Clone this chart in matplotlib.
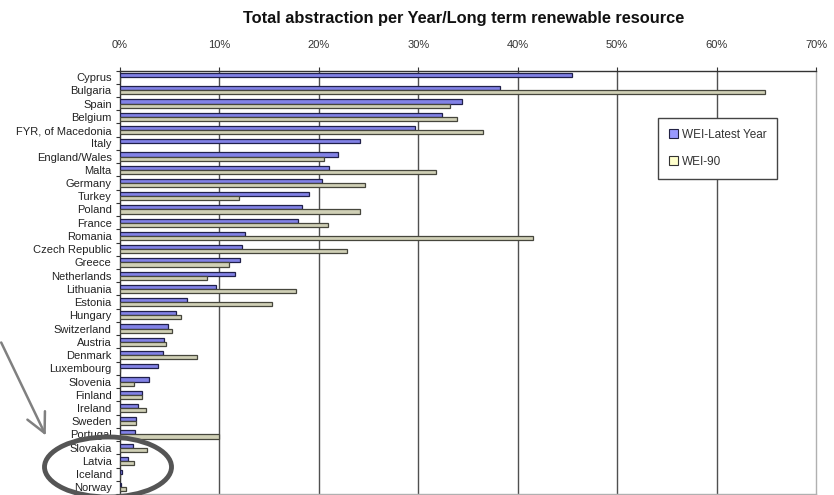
import matplotlib
matplotlib.use("Agg")
import matplotlib.pyplot as plt
import numpy as np
from matplotlib.patches import Patch, Ellipse, FancyArrowPatch

plt.rcParams['font.family'] = ['Liberation Sans', 'DejaVu Sans']

# Water exploitation index per country, in % of long term renewable resource
countries = ["Cyprus", "Bulgaria", "Spain", "Belgium", "FYR, of Macedonia", "Italy",
             "England/Wales", "Malta", "Germany", "Turkey", "Poland", "France",
             "Romania", "Czech Republic", "Greece", "Netherlands", "Lithuania",
             "Estonia", "Hungary", "Switzerland", "Austria", "Denmark", "Luxembourg",
             "Slovenia", "Finland", "Ireland", "Sweden", "Portugal", "Slovakia",
             "Latvia", "Iceland", "Norway"]
wei_latest = [45.5, 38.2, 34.4, 32.4, 29.7, 24.1, 21.9, 21.0, 20.3, 19.0, 18.3, 17.9,
              12.6, 12.3, 12.1, 11.6, 9.7, 6.7, 5.6, 4.8, 4.4, 4.3, 3.8,
              2.9, 2.2, 1.8, 1.6, 1.5, 1.3, 0.8, 0.2, 0.1]
wei_90 = [0, 64.9, 33.2, 33.9, 36.5, 0, 20.5, 31.8, 24.6, 12.0, 24.1, 20.9,
          41.5, 22.8, 11.0, 8.8, 17.7, 15.3, 6.1, 5.2, 4.6, 7.7, 0,
          1.4, 2.2, 2.6, 1.6, 10.0, 2.7, 1.4, 0, 0.6]
series_names = ["WEI-Latest Year", "WEI-90"]
xticks = [0, 10, 20, 30, 40, 50, 60, 70]

blue = "#8282e6"
beige = "#d0d0b6"

fig = plt.figure(figsize=(8.34, 4.95), dpi=100)
ax = fig.add_axes([120 / 834, 1 / 495, 696 / 834, 423.5 / 495])

y = np.arange(len(countries))
h = 0.31
ax.barh(y - h / 2, wei_latest, height=h, color=blue, edgecolor="#20204a", linewidth=0.9, zorder=3)
ax.barh(y + h / 2, wei_90, height=h, color=beige, edgecolor="#46463c", linewidth=0.9, zorder=3)

ax.set_xlim(0, 70)
ax.set_ylim(len(countries) - 0.5, -0.5)

# grid lines inside the plot area
for t in xticks[1:-1]:
    ax.axvline(t, color="#505050", lw=1.0, zorder=1)

ax.xaxis.tick_top()
ax.set_xticks(xticks)
ax.set_xticklabels([f"{t}%" for t in xticks], fontsize=8, color="#333333")
ax.tick_params(axis="x", direction="out", length=3, width=0.8, color="#333333", pad=12)

ax.set_yticks(y)
ax.set_yticklabels(countries, fontsize=8, color="#222222")
ax.tick_params(axis="y", which="major", length=0, pad=6)
ax.set_yticks(np.arange(len(countries) + 1) - 0.5, minor=True)
ax.tick_params(axis="y", which="minor", direction="out", length=3, width=0.8, color="#333333")

ax.spines["top"].set_color("#333333")
ax.spines["left"].set_color("#333333")
ax.spines["right"].set_color("#b0b0b0")
ax.spines["bottom"].set_color("#b0b0b0")
for s in ax.spines.values():
    s.set_linewidth(1.0)

fig.text(464 / 834, 1 - 18 / 495, "Total abstraction per Year/Long term renewable resource",
         ha="center", va="center", fontsize=11.8, fontweight="bold", color="#111111")

handles = [Patch(facecolor="#9999ff", edgecolor="#222244", linewidth=0.8),
           Patch(facecolor="#ffffcc", edgecolor="#333333", linewidth=0.8)]
leg = fig.legend(handles, series_names, loc="upper left",
                 bbox_to_anchor=(658 / 834, 1 - 118 / 495), fontsize=8.5,
                 fancybox=False, framealpha=1, edgecolor="#444444",
                 handlelength=0.8, handleheight=0.8, handletextpad=0.3,
                 labelspacing=1.3, borderpad=0.9, borderaxespad=0)
leg.get_frame().set_linewidth(1.0)
for txt in leg.get_texts():
    txt.set_color("#333333")

# overlay for the highlight ellipse and arrow
ov = fig.add_axes([0, 0, 1, 1])
ov.set_xlim(0, 834)
ov.set_ylim(495, 0)
ov.axis("off")
ov.patch.set_alpha(0)
ov.add_patch(Ellipse((108, 467), 127, 60, fill=False, edgecolor="#555555", lw=3.5))
ov.add_patch(FancyArrowPatch((0, 340), (47, 438), arrowstyle="->,head_length=14,head_width=7",
                             mutation_scale=1, color="#808080", lw=1.8))

fig.savefig("out.png", dpi=100)
